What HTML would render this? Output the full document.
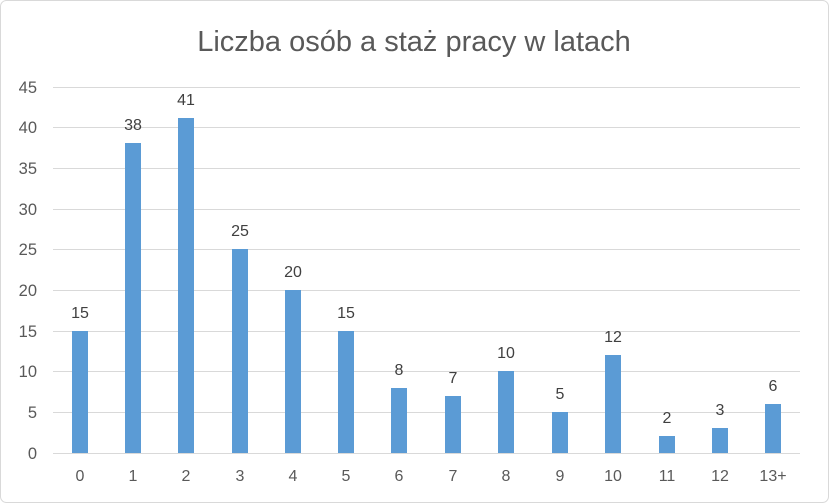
<!DOCTYPE html>
<html><head><meta charset="utf-8"><style>
html,body{margin:0;padding:0;background:#fff;}
svg{display:block;font-family:"Liberation Sans",sans-serif;}
</style></head><body>
<svg width="829" height="503" xmlns="http://www.w3.org/2000/svg">
<rect x="0.5" y="0.5" width="828" height="502" rx="6" fill="#fff" stroke="#d9d9d9"/>
<text x="414" y="51" text-anchor="middle" font-size="29" fill="#595959">Liczba osób a staż pracy w latach</text>
<g stroke="#d9d9d9" stroke-width="1">
<line x1="53" x2="800" y1="87.5" y2="87.5"/><line x1="53" x2="800" y1="127.5" y2="127.5"/>
<line x1="53" x2="800" y1="168.5" y2="168.5"/><line x1="53" x2="800" y1="209.5" y2="209.5"/>
<line x1="53" x2="800" y1="249.5" y2="249.5"/><line x1="53" x2="800" y1="290.5" y2="290.5"/>
<line x1="53" x2="800" y1="331.5" y2="331.5"/><line x1="53" x2="800" y1="371.5" y2="371.5"/>
<line x1="53" x2="800" y1="412.5" y2="412.5"/><line x1="53" x2="800" y1="453.5" y2="453.5"/>
</g>
<g font-size="16.5" fill="#595959" text-anchor="end">
<text x="37" y="93">45</text><text x="37" y="133">40</text><text x="37" y="174">35</text>
<text x="37" y="215">30</text><text x="37" y="255">25</text><text x="37" y="296">20</text>
<text x="37" y="337">15</text><text x="37" y="377">10</text><text x="37" y="418">5</text><text x="37" y="459">0</text>
</g>
<g fill="#5b9bd5">
<rect x="72" y="331" width="16" height="122"/>
<rect x="125" y="143" width="16" height="310"/>
<rect x="178" y="118" width="16" height="335"/>
<rect x="232" y="249" width="16" height="204"/>
<rect x="285" y="290" width="16" height="163"/>
<rect x="338" y="331" width="16" height="122"/>
<rect x="391" y="388" width="16" height="65"/>
<rect x="445" y="396" width="16" height="57"/>
<rect x="498" y="371" width="16" height="82"/>
<rect x="552" y="412" width="16" height="41"/>
<rect x="605" y="355" width="16" height="98"/>
<rect x="659" y="436" width="16" height="17"/>
<rect x="712" y="428" width="16" height="25"/>
<rect x="765" y="404" width="16" height="49"/>
</g>
<g font-size="16" fill="#404040" text-anchor="middle">
<text x="80" y="318">15</text><text x="133" y="130">38</text><text x="186" y="105">41</text>
<text x="240" y="236">25</text><text x="293" y="277">20</text><text x="346" y="318">15</text>
<text x="399" y="375">8</text><text x="453" y="383">7</text><text x="506" y="358">10</text>
<text x="560" y="399">5</text><text x="613" y="342">12</text><text x="667" y="423">2</text>
<text x="720" y="415">3</text><text x="773" y="391">6</text>
</g>
<g font-size="16" fill="#595959" text-anchor="middle">
<text x="80" y="481">0</text><text x="133" y="481">1</text><text x="186" y="481">2</text>
<text x="240" y="481">3</text><text x="293" y="481">4</text><text x="346" y="481">5</text>
<text x="399" y="481">6</text><text x="453" y="481">7</text><text x="506" y="481">8</text>
<text x="560" y="481">9</text><text x="613" y="481">10</text><text x="667" y="481">11</text>
<text x="720" y="481">12</text><text x="773" y="481">13+</text>
</g>
</svg>
</body></html>
